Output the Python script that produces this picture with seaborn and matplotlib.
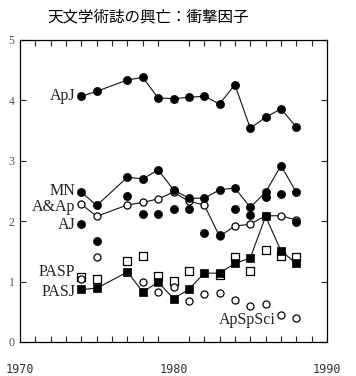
import numpy as np
import pandas as pd
import matplotlib
matplotlib.use("Agg")
import matplotlib.pyplot as plt
import seaborn as sns

years = [1974, 1975, 1977, 1978, 1979, 1980, 1981, 1982, 1983, 1984, 1985, 1986, 1987, 1988]

apj    = [4.07, 4.15, 4.34, 4.38, 4.04, 4.03, 4.05, 4.07, 3.94, 4.26, 3.54, 3.72, 3.86, 3.56]
mn     = [2.48, 2.26, 2.73, 2.70, 2.85, 2.52, 2.38, 2.38, 2.52, 2.55, 2.23, 2.48, 2.92, 2.48]
aanda  = [2.28, 2.08, 2.27, 2.31, 2.37, 2.48, 2.33, 2.27, 1.75, 1.92, 1.95, 2.09, 2.09, 2.02]
aj     = [1.95, 1.68, 2.41, 2.12, 2.12, 2.20, 2.20, 1.80, 1.77, 2.21, 2.11, 2.40, 2.45, 1.99]
pasj   = [0.87, 0.89, 1.16, 0.83, 0.99, 0.72, 0.87, 1.14, 1.14, 1.30, 1.39, 2.08, 1.51, 1.30]
pasp   = [1.07, 1.04, 1.34, 1.43, 1.10, 1.01, 1.18, np.nan, 1.11, 1.41, 1.18, 1.53, 1.43, 1.41]
apspsci = [1.05, 1.40, np.nan, 1.00, 0.82, 0.91, 0.68, 0.79, 0.81, 0.70, 0.60, 0.63, 0.45, 0.39]

title = "天文学術誌の興亡：衝撃因子"
xticks_major = [1970, 1980, 1990]
yticks_major = [0, 1, 2, 3, 4, 5]

sns.set_style("ticks")
plt.rcParams['font.family'] = ['Liberation Serif', 'DejaVu Serif']

fig = plt.figure(figsize=(3.56, 3.76), dpi=100)
ax = fig.add_axes([20/356, 1-342/376, 307/356, 302/376])

def df_of(vals):
    return pd.DataFrame({"year": years, "value": vals}).dropna()

lw = 0.8
for vals in [apj, mn, aanda, pasj]:
    sns.lineplot(data=df_of(vals), x="year", y="value", ax=ax, color="#111111",
                 linewidth=lw, estimator=None, sort=True)

# open markers
sns.scatterplot(data=df_of(pasp), x="year", y="value", ax=ax, marker="s", s=34,
                facecolor="white", edgecolor="black", linewidth=0.9, zorder=3)
sns.scatterplot(data=df_of(apspsci), x="year", y="value", ax=ax, marker="o", s=26,
                facecolor="white", edgecolor="black", linewidth=0.9, zorder=3)
sns.scatterplot(data=df_of(aanda), x="year", y="value", ax=ax, marker="o", s=26,
                facecolor="white", edgecolor="black", linewidth=0.9, zorder=4)
# filled markers
for vals in [apj, mn, aj]:
    sns.scatterplot(data=df_of(vals), x="year", y="value", ax=ax, marker="o", s=34,
                    color="black", edgecolor="black", linewidth=0.5, zorder=5)
sns.scatterplot(data=df_of(pasj), x="year", y="value", ax=ax, marker="s", s=34,
                color="black", edgecolor="black", linewidth=0.5, zorder=5)

ax.set_xlim(1970, 1990)
ax.set_ylim(0, 5)
ax.set_xlabel("")
ax.set_ylabel("")

ax.set_xticks(xticks_major)
ax.set_xticklabels([str(v) for v in xticks_major], family="DejaVu Sans Mono",
                   fontsize=8.5, color="#333333")
ax.set_xticks(np.arange(1971, 1990), minor=True)
ax.set_yticks(yticks_major)
ax.set_yticklabels([str(v) for v in yticks_major], fontsize=8.5, color="#555555")

ax.tick_params(axis="x", which="major", direction="in", length=0, pad=15, top=False)
ax.tick_params(axis="x", which="minor", direction="in", length=4.5, width=0.8,
               top=True, bottom=True)
ax.tick_params(axis="y", which="major", direction="in", length=4, width=0.8,
               left=True, right=True, pad=4)
for sp in ax.spines.values():
    sp.set_visible(True)
    sp.set_linewidth(0.9)
    sp.set_color("black")

lab_kw = dict(fontsize=11.5, color="#222222", ha="right", va="center")
ax.text(1973.6, 4.07, "ApJ", **lab_kw)
ax.text(1973.6, 2.50, "MN", **lab_kw)
ax.text(1973.6, 2.23, "A&Ap", **lab_kw)
ax.text(1973.6, 1.93, "AJ", **lab_kw)
ax.text(1973.6, 1.16, "PASP", **lab_kw)
ax.text(1973.6, 0.83, "PASJ", **lab_kw)
ax.text(1984.8, 0.36, "ApSpSci", fontsize=11.5, color="#222222", ha="center", va="center")

fig.text(148/356, 1-17/376, title, family=["Noto Sans CJK JP", "DejaVu Sans"],
         fontsize=11.2, ha="center", va="center", color="black")

fig.savefig("out.png", dpi=100)
